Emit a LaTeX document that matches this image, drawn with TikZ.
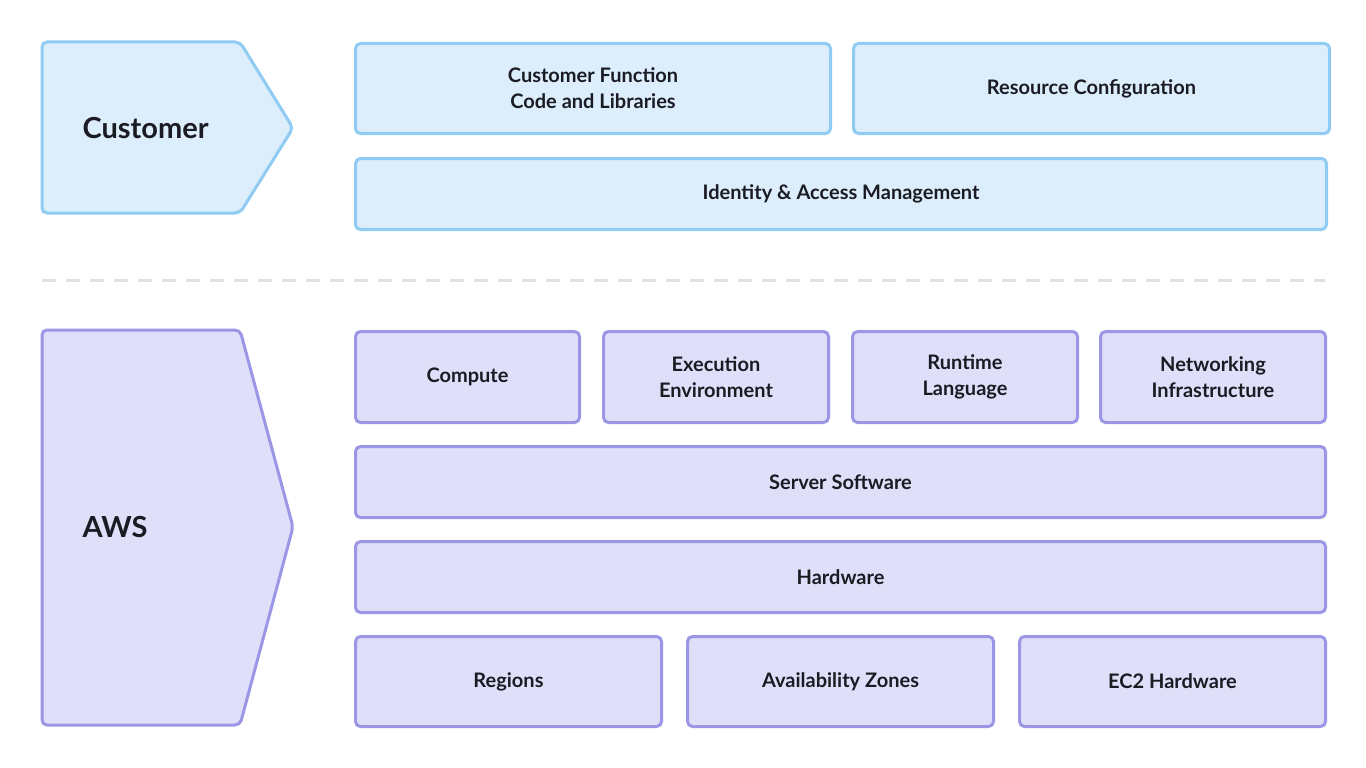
\documentclass[tikz,border=0pt]{standalone}
\usepackage{fontspec}
\setmainfont{Lato}
\definecolor{cfill}{HTML}{DCEEFB}
\definecolor{cline}{HTML}{8FCBF2}
\definecolor{afill}{HTML}{DFDFF9}
\definecolor{aline}{HTML}{9B97E6}
\definecolor{txt}{HTML}{1B1B24}
\begin{document}
\begin{tikzpicture}[x=1pt,y=-1pt,
  box/.style={draw,line width=3pt,rounded corners=5pt,inner sep=0pt,align=center,text=txt,font=\fontsize{20}{26}\selectfont\bfseries,anchor=north west},
  cbox/.style={box,fill=cfill,draw=cline},
  abox/.style={box,fill=afill,draw=aline},
  lbl/.style={text=txt,font=\fontsize{29}{34}\selectfont\bfseries,anchor=west}]
\useasboundingbox (0,0) rectangle (1366,768);
\fill[white] (0,0) rectangle (1366,768);
% chevrons
\draw[line width=3pt,fill=cfill,draw=cline,rounded corners=5pt] (42,42) -- (240,42) -- (293,128) -- (240,213) -- (42,213) -- cycle;
\draw[line width=3pt,fill=afill,draw=aline,rounded corners=5pt] (42,330) -- (240,330) -- (293,527) -- (240,725) -- (42,725) -- cycle;
\node[lbl] (cust) at (79,128) {Customer};
\node[lbl] (aws) at (79,527) {AWS};
% dashed separator
\coordinate (d1) at (42,280); \coordinate (d2) at (1325,280);
\draw[line width=3pt,draw=black!12,dash pattern=on 14pt off 10pt] (d1) -- (d2);
% customer boxes
\node[cbox,minimum width=475pt,minimum height=90pt] (cf) at (354,42) {Customer Function\\Code and Libraries};
\node[cbox,minimum width=476pt,minimum height=90pt] (rc) at (852,42) {Resource Configuration};
\node[cbox,minimum width=971pt,minimum height=71pt] (iam) at (354,157) {Identity \& Access Management};
% aws boxes
\node[abox,minimum width=224pt,minimum height=91pt] (comp) at (354,330) {Compute};
\node[abox,minimum width=225pt,minimum height=91pt] (exe) at (602,330) {Execution\\Environment};
\node[abox,minimum width=225pt,minimum height=91pt] (rt) at (851,330) {Runtime\\Language};
\node[abox,minimum width=225pt,minimum height=91pt] (net) at (1099,330) {Networking\\Infrastructure};
\node[abox,minimum width=970pt,minimum height=71pt] (ss) at (354,445) {Server Software};
\node[abox,minimum width=970pt,minimum height=71pt] (hw) at (354,540) {Hardware};
\node[abox,minimum width=306pt,minimum height=90pt] (reg) at (354,635) {Regions};
\node[abox,minimum width=306pt,minimum height=90pt] (az) at (686,635) {Availability Zones};
\node[abox,minimum width=306pt,minimum height=90pt] (ec2) at (1018,635) {EC2 Hardware};
\end{tikzpicture}
\end{document}
